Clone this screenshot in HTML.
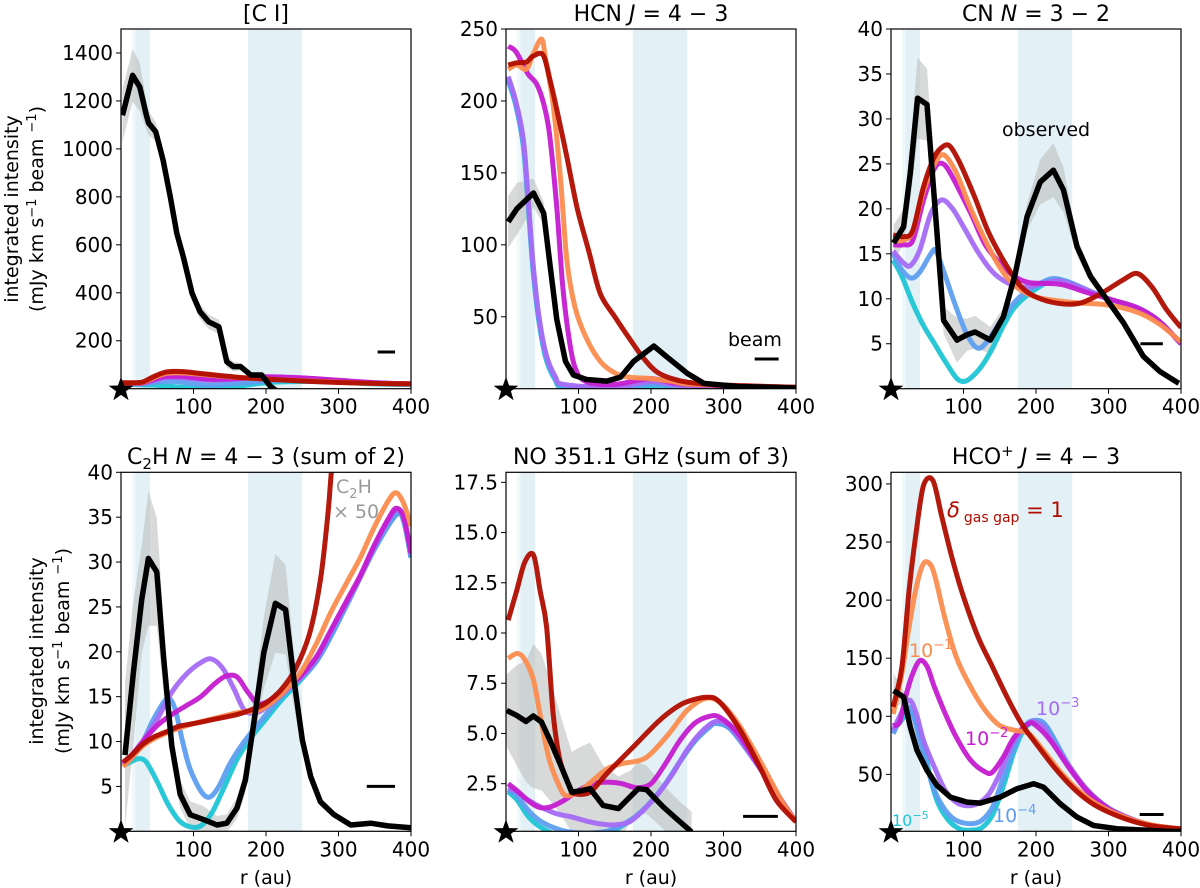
<!DOCTYPE html>
<html><head><meta charset="utf-8"><style>
html,body{margin:0;padding:0;background:#fff;}
svg{display:block;font-family:"DejaVu Sans","Liberation Sans",sans-serif;}
</style></head><body>
<svg id="fig" width="1200" height="888" viewBox="0 0 1200 888" xmlns="http://www.w3.org/2000/svg"></svg>
<script>
// ---------- DATA ----------
const xTicks = [100,200,300,400];
const bands = [[20,40],[175,250]];
// Panel 1 [C I]
const p1_yticks = [200,400,600,800,1000,1200,1400];
const p1_obs_r = [2,16,26,35,38,48,58,68,77,86,98,109,121,135,146,155,165,179,194,206,215];
const p1_obs_v = [1140,1307,1258,1140,1108,1071,953,800,648,550,398,321,279,258,112,92,92,57,57,10,-10];
const p1_obs_e = [110,110,100,60,50,40,40,35,35,35,30,30,30,30,25,20,15,12,10,5,5];
const p1_r = [0,20,30,45,60,75,90,120,160,200,250,300,350,400];
const p1_red = [25,25,28,50,68,72,70,60,48,40,32,26,22,20];
const p1_orange = [24,24,26,45,62,66,65,57,47,40,33,27,22,20];
const p1_magenta = [22,22,24,38,50,52,50,40,42,50,45,35,25,20];
const p1_violet = [22,22,23,34,45,47,44,36,40,48,44,34,25,20];
const p1_blue = [20,20,20,26,30,30,25,15,22,32,35,30,22,18];
const p1_cyan = [18,18,16,15,12,8,5,3,10,25,30,28,20,17];
// Panel 2 HCN
const p2_yticks = [50,100,150,200,250];
const p2_obs_r = [3,15,38,52,61,70,82,93,111,139,158,176,204,222,250,273,320,400];
const p2_obs_v = [116,125,136,122,85,48,19,9.5,6.4,5.3,8,19,29.6,22,10.6,3.7,1.5,0.5];
const p2_obs_e = [18,18,10,8,5,3,2,2,1,1,1,2,2,2,1,1,0.5,0.5];
const p2_red_r = [3,15,28,37,51,61,70,84,98,115,130,150,170,190,210,240,280,330,400];
const p2_red = [225,226.5,227,231,232,214,194,161,126,94,66,50,35,21,11,5.5,3,2,1];
const p2_orange_r = [3,15,28,37,49,55,65,75,84,95,110,130,150,170,200,230,260,400];
const p2_orange = [222,225,222,232,243,228,198,147,89,57,36,19,11,8,7,5,3,1];
const p2_magenta_r = [3,14,30,42,52,60,70,78,86,95,110,150,200,250,400];
const p2_magenta = [238,234,219,212,198,177,126,73,38,15,5,3,7,3,1];
const p2_low_r = [3,14,24,30,37,45,55,68,80,150,200,250,400];
const p2_violet = [217,199,173,136,89,52,24.5,8.3,3,1,5,2,0.5];
const p2_blue = [215,197,170,133,86,50,23,7,2,0.5,3,1.5,0.5];
const p2_cyan = [214,196,168,131,84,48,21,6,1,0,1.5,1,0.3];
// Panel 3 CN
const p3_yticks = [5,10,15,20,25,30,35,40];
const p3_obs_r = [3.6,17.4,26.6,36.7,49.6,63.4,72.6,91,104.8,116,137,155,171.5,187.6,206,224,238,256.6,275,298,321,348,371,397];
const p3_obs_v = [16.2,18,24,32.3,31.6,17.3,7.6,5.4,6,6.3,5.4,8,12.8,19.1,23,24.3,22.1,15.8,12.5,9.9,7.3,3.6,1.9,0.6];
const p3_obs_e = [2,2,3,4.5,4,2,1.5,2.5,1.8,1.8,1.5,1,1.2,1.5,2.5,3,2.5,1,0.7,0.5,0.5,0.4,0.3,0.3];
const p3_red_r = [3,17,30,45,60,73,82,95,115,135,160,180,200,230,260,290,320,340,360,380,400];
const p3_red = [17.1,16.9,17.6,22.5,25.8,27,26.9,25.1,21.4,17.3,13.6,11.3,10.2,9.5,9.5,10.6,12.1,12.8,11.3,8.8,6.8];
const p3_orange_r = [3,17,30,45,60,73,90,110,130,150,170,200,250,300,340,370,400];
const p3_orange = [16.5,16.5,17.5,22,25,26,24,20,16.5,13.5,11.5,10.2,9.6,9.3,8.5,7.2,5.2];
const p3_magenta_r = [3,17,30,45,60,72,85,110,130,150,170,190,220,240,270,300,340,370,400];
const p3_magenta = [16,16,16.5,21,24.5,25,23.5,19.5,16,14,12.5,11.8,11.7,11.5,10.7,10,9,7.5,5];
const p3_violet_r = [3,17,27,40,55,70,85,100,120,140,160,180,200,230,260,300,340,370,400];
const p3_violet = [15.3,14,13.7,15.5,19.5,21,20,18,15.2,13,11.8,11.3,11.5,12,11.3,10,9,7.5,5];
const p3_blue_r = [3,15,28,40,55,62,75,90,105,120,135,155,175,195,220,240,270,300,340,370,400];
const p3_blue = [15,13.2,12.3,13,15,15.3,12.5,9,6,4.5,5.5,8,10,11.2,12.2,12,11,10,9,7.5,5];
const p3_cyan_r = [3,15,30,45,60,75,90,100,110,125,140,155,170,190,220,240,270,300,340,370,400];
const p3_cyan = [14.3,12.5,9.5,7,5,3,1.2,0.8,1.2,2.5,4.5,7,9,10.5,12,12,11,10,9,7.5,5];
// Panel 4 C2H
const p4_yticks = [5,10,15,20,25,30,35,40];
const p4_obs_r = [5.5,17,28.6,37.8,49.4,58.6,70,81.7,95.5,114,132.5,146,160,171.6,183,197,213,227,238.5,250,261.6,275,294,317,344.6,368,400];
const p4_obs_v = [8.5,17.6,25.8,30.4,28.9,19.5,9.5,4.1,1.85,1.3,0.7,0.9,2.6,5.7,12,19.9,25.4,24.7,16.9,10.2,6.1,3.3,1.85,0.7,0.9,0.6,0.4];
const p4_obs_e = [8,8,6,7.5,6,4,2,1.5,1.5,1.5,1,1,1.2,1.5,2,4,5.5,5,3,1.5,0.7,0.5,0.4,0.3,0.3,0.3,0.3];
const p4_red_r = [3,15,30,45,60,80,100,130,160,185,200,220,240,260,275,285,290,300];
const p4_red = [7.7,8.5,9.7,10.5,11,11.7,12,12.5,13,13.7,14.3,15.7,18,22,28,35,40,50];
const p4_orange_r = [3,15,30,50,80,100,130,160,190,210,230,250,270,290,310,330,350,370,380,390,400];
const p4_orange = [7.2,8.2,9.5,10.5,11.5,12,12.6,13.2,13.5,14.5,16,18,21,24.5,27.5,30.5,34,37,37.7,36.5,34];
const p4_magenta_r = [3,15,30,50,70,90,110,130,145,160,175,190,210,230,250,270,290,310,330,350,370,380,390,400];
const p4_magenta = [7.5,8.5,10,11.8,13,14,15,16.5,17.3,17.2,15.5,14.2,14.8,16,17.5,19.5,22.5,25.5,28.5,32,35,36,35,31];
const p4_violet_r = [3,15,30,50,70,90,110,125,140,155,170,185,200,230,250,270,290,310,330,350,370,380,390,400];
const p4_violet = [7.5,8.5,10,12.5,15.5,17.5,18.8,19.2,18.2,16,13.5,13.2,13.8,15.8,17.3,19.3,22.3,25.3,28.3,31.8,34.8,35.8,34.8,30.8];
const p4_blue_r = [3,15,30,45,60,67,75,85,95,110,122,135,150,170,190,210,230,270,310,350,380,390,400];
const p4_blue = [7.5,8.3,10,12.5,14.5,14.8,13.5,10,7,4.5,3.8,5,7.5,10,12,14,15.8,19,25,31.5,35.3,34.5,30.5];
const p4_cyan_r = [3,15,25,35,50,65,80,95,110,125,140,160,180,200,220,270,310,350,380,390,400];
const p4_cyan = [7.3,7.8,8.1,7.7,5.5,3,1.2,0.5,0.6,2,4.5,8,10.5,12.5,14.5,19,25,31.5,35.3,34.5,30.5];
// Panel 5 NO
const p5_yticks = [2.5,5.0,7.5,10.0,12.5,15.0,17.5];
const p5_obs_r = [1,14.7,27.6,37.7,49,60.7,74.5,90.6,104,116,134,155,171,182.5,194,217,238,256];
const p5_obs_v = [6.15,5.9,5.6,5.87,5.57,4.66,3.5,2.08,2.15,2.25,1.42,1.26,1.84,2.25,2.2,1.34,0.67,0.1];
const p5_obs_e = [1.8,2.5,3,3.6,3.4,3,2.5,2,2.2,2.3,2,1.6,1.3,1.3,1.2,1.1,1,1];
const p5_red_r = [3,15,26,38,47,56,65,74.5,88,95,116,139,175.6,212,244.6,277,295,323,350,373,400];
const p5_red = [10.64,12.14,13.54,13.88,12.1,10.3,6,3.66,2.33,2,2.08,3,4.33,5.66,6.5,6.8,6.55,5.16,3.33,1.67,0.6];
const p5_orange_r = [3,15,25,38,50,60,72,82,100,120,140,160,185,200,225,250,275,295,320,350,380,400];
const p5_orange = [8.73,8.98,8.73,7.65,5.32,3.66,2.5,1.92,2.08,2.67,3.25,3.5,3.66,4,5,6.16,6.74,6.55,5.5,3.66,1.67,0.6];
const p5_magenta_r = [3,15,30,45,60,80,100,120,140,160,180,200,220,240,260,280,295,320,350,380,400];
const p5_magenta = [2.5,2.16,1.67,1.33,1.33,1.67,2.16,2.5,2.58,2.5,2.3,2.5,3.5,4.66,5.5,5.85,5.8,5,3.33,1.67,0.6];
const p5_violet_r = [3,15,30,50,70,90,110,130,150,170,190,210,230,250,270,290,310,340,370,400];
const p5_violet = [2.3,2.1,1.7,1.3,1.0,0.85,0.65,0.5,0.45,0.6,1.2,2,3,4.2,5.1,5.6,5.3,3.8,2.2,0.6];
const p5_blue_r = [3,15,30,45,60,80,100,120,140,160,180,200,220,240,260,280,290,310,340,370,400];
const p5_blue = [2.2,1.9,1.2,0.7,0.4,0.15,0.05,0.05,0.15,0.45,0.9,1.6,2.5,3.6,4.6,5.3,5.5,5.2,3.8,2.2,0.6];
const p5_cyan = [2.1,1.7,0.9,0.4,0.1,-0.2,-0.3,-0.2,0,0.4,0.9,1.6,2.5,3.6,4.6,5.3,5.5,5.2,3.8,2.2,0.6];
// Panel 6 HCO+
const p6_yticks = [50,100,150,200,250,300];
const p6_obs_r = [3.6,17.4,26.6,35.8,49.6,63.4,81.8,104.8,123,150.8,173.8,196.7,210.5,233.5,256.6,279.4,311.7,380,400];
const p6_obs_v = [122,116.6,90.8,70.7,53.4,40.5,30.4,26.1,25.3,30.4,37.7,42,39,24.7,13.2,6,3.2,1,0.8];
const p6_obs_e = [15,5,3,2,1,1,1,1,1,1,1,1,1,1,1,1,0.5,0.5,0.5];
const p6_red_r = [3,15,25,35,45,58,70,85,100,120,140,160,180,200,225,250,275,300,330,360,400];
const p6_red = [108,142.5,208.6,260,299,302.8,271.8,234.5,202.8,168.4,142.5,116.6,93.7,76.5,56.3,39,26,17.5,10.3,5.7,3];
const p6_orange_r = [3,15,25,35,45,55,62,75,90,110,130,150,170,190,210,240,270,300,330,360,400];
const p6_orange = [102,136.8,177,211.5,231.6,230,217,182.8,151,125,105,92,88,85,70.7,47.7,30.4,19,11.5,6.5,3];
const p6_magenta_r = [3,12,20,30,40,50,60,75,90,110,130,140,155,170,190,200,220,245,270,300,330,360,400];
const p6_magenta = [92,95,116.6,136.8,148,142.5,125,102,82,62,52,52,65,82,93.7,92,79,56.3,36,20.4,11.5,6,3];
const p6_violet_r = [3,12,25,35,45,60,75,90,105,120,135,150,165,180,195,210,220,245,270,300,330,360,400];
const p6_violet = [88,100,114,102,79,56,36,26,23,25,33,50.6,73.5,88,95.5,91,81,58,37,21,12,6,3];
const p6_blue_r = [3,12,22,30,40,50,60,75,90,110,125,140,155,170,185,200,215,245,270,300,330,360,400];
const p6_blue = [85,97,108,102,79,56,36,19,10.3,7.5,10.3,21.8,47.7,73.5,92,96.5,91,58,37,21,12,6,3];
const p6_cyan_r = [3,15,25,35,45,55,65,80,95,110,125,140,155,170,185,200,215,245,270,300,330,360,400];
const p6_cyan = [88,97,104,95,75,45,25,10,3,2,4,15,40,70,90,95,90,58,37,21,12,6,3];
// Beam bars [r0, r1, value]
const beams = [[354,378,153],[343,376,20.6],[344,375,5],[339,378,5],[327,375,0.87],[343,376,15.5]];

// ---------- COLORS ----------
const COL = {red:'#b00d00',orange:'#fb8c4e',magenta:'#c41ccf',violet:'#a56cf4',blue:'#5e9ef0',cyan:'#1fc5d5'};

const NS='http://www.w3.org/2000/svg';
const svg=document.getElementById('fig');
function mk(tag,attrs,parent){const e=document.createElementNS(NS,tag);for(const k in attrs)e.setAttribute(k,attrs[k]);(parent||svg).appendChild(e);return e;}

const panels=[
 {id:'ci',L:121,T:29,H:359.7,ymin:0,ymax:1500,yt:p1_yticks,obs:[p1_obs_r,p1_obs_v,p1_obs_e],
  models:[['cyan',p1_r,p1_cyan],['blue',p1_r,p1_blue],['violet',p1_r,p1_violet],['magenta',p1_r,p1_magenta],['orange',p1_r,p1_orange],['red',p1_r,p1_red]]},
 {id:'hcn',L:506,T:29,H:359.7,ymin:0,ymax:250,yt:p2_yticks,obs:[p2_obs_r,p2_obs_v,p2_obs_e],
  models:[['cyan',p2_low_r,p2_cyan],['blue',p2_low_r,p2_blue],['violet',p2_low_r,p2_violet],['magenta',p2_magenta_r,p2_magenta],['orange',p2_orange_r,p2_orange],['red',p2_red_r,p2_red]]},
 {id:'cn',L:891,T:29,H:359.7,ymin:0,ymax:40,yt:p3_yticks,obs:[p3_obs_r,p3_obs_v,p3_obs_e],
  models:[['cyan',p3_cyan_r,p3_cyan],['blue',p3_blue_r,p3_blue],['violet',p3_violet_r,p3_violet],['magenta',p3_magenta_r,p3_magenta],['orange',p3_orange_r,p3_orange],['red',p3_red_r,p3_red]]},
 {id:'c2h',L:121,T:472.3,H:359,ymin:0,ymax:40,yt:p4_yticks,obs:[p4_obs_r,p4_obs_v,p4_obs_e],
  models:[['cyan',p4_cyan_r,p4_cyan],['blue',p4_blue_r,p4_blue],['violet',p4_violet_r,p4_violet],['magenta',p4_magenta_r,p4_magenta],['orange',p4_orange_r,p4_orange],['red',p4_red_r,p4_red]]},
 {id:'no',L:506,T:472.3,H:359,ymin:0.13,ymax:18,yt:p5_yticks,dec:1,obs:[p5_obs_r,p5_obs_v,p5_obs_e],
  models:[['cyan',p5_blue_r,p5_cyan],['blue',p5_blue_r,p5_blue],['violet',p5_violet_r,p5_violet],['magenta',p5_magenta_r,p5_magenta],['orange',p5_orange_r,p5_orange],['red',p5_red_r,p5_red]]},
 {id:'hco',L:891,T:472.3,H:359,ymin:1,ymax:310,yt:p6_yticks,obs:[p6_obs_r,p6_obs_v,p6_obs_e],
  models:[['cyan',p6_cyan_r,p6_cyan],['blue',p6_blue_r,p6_blue],['violet',p6_violet_r,p6_violet],['magenta',p6_magenta_r,p6_magenta],['orange',p6_orange_r,p6_orange],['red',p6_red_r,p6_red]]}
];
const W=290;

function smooth(pts){
  let d='M'+pts[0][0].toFixed(1)+','+pts[0][1].toFixed(1);
  for(let i=0;i<pts.length-1;i++){
    const p0=pts[Math.max(0,i-1)],p1=pts[i],p2=pts[i+1],p3=pts[Math.min(pts.length-1,i+2)];
    const t=0.16;
    const c1=[p1[0]+(p2[0]-p0[0])*t,p1[1]+(p2[1]-p0[1])*t];
    const c2=[p2[0]-(p3[0]-p1[0])*t,p2[1]-(p3[1]-p1[1])*t];
    d+=' C'+c1[0].toFixed(1)+','+c1[1].toFixed(1)+' '+c2[0].toFixed(1)+','+c2[1].toFixed(1)+' '+p2[0].toFixed(1)+','+p2[1].toFixed(1);
  }
  return d;
}

panels.forEach((p,pi)=>{
  const B=p.T+p.H;
  const xs=r=>p.L+r/400*W;
  const ys=v=>B-(v-p.ymin)/(p.ymax-p.ymin)*p.H;
  const g=mk('g',{});
  
  
  const cp=mk('clipPath',{id:'clip'+pi},g);
  mk('rect',{x:p.L,y:p.T,width:W,height:p.H},cp);
  const cg=mk('g',{'clip-path':'url(#clip'+pi+')'},g);
  bands.forEach((b,bi)=>{
    const rc=mk('rect',{x:xs(b[0]),y:p.T,width:xs(b[1])-xs(b[0]),height:p.H,fill:'#e3f1f7'},cg);
    
    
  });
  const rc0=mk('rect',{x:xs(15),y:p.T,width:xs(20)-xs(15),height:p.H,fill:'#f1f8fb'},cg);
  
  
  const [or,ov,oe]=p.obs;
  let up=or.map((r,i)=>xs(r).toFixed(1)+','+ys(ov[i]+oe[i]).toFixed(1));
  let dn=or.map((r,i)=>xs(r).toFixed(1)+','+ys(ov[i]-oe[i]).toFixed(1)).reverse();
  const eb=mk('polygon',{points:up.concat(dn).join(' '),fill:'#b8baba',opacity:0.55},cg);
  
  
  p.models.forEach(m=>{
    const pts=m[1].map((r,i)=>[xs(r),ys(m[2][i])]);
    const pa=mk('path',{d:smooth(pts),fill:'none',stroke:COL[m[0]],'stroke-width':5,'stroke-linejoin':'round',opacity:0.95},cg);
    
    
  });
  const ol=mk('polyline',{points:or.map((r,i)=>xs(r).toFixed(1)+','+ys(ov[i]).toFixed(1)).join(' '),fill:'none',stroke:'#000','stroke-width':5.5,'stroke-linejoin':'round'},cg);
  
  
  const bm=beams[pi];
  const bl=mk('line',{x1:xs(bm[0]),x2:xs(bm[1]),y1:ys(bm[2]),y2:ys(bm[2]),stroke:'#000','stroke-width':3},g);
  
  
  const fr=mk('rect',{x:p.L,y:p.T,width:W,height:p.H,fill:'none',stroke:'#000','stroke-width':1.2},g);
  
  
  p.yt.forEach(v=>{
    const y=ys(v);
    const tl=mk('line',{x1:p.L-5,x2:p.L,y1:y,y2:y,stroke:'#000','stroke-width':1},g);
    
    
    const tx=mk('text',{x:p.L-8,y:y+7,'text-anchor':'end','font-size':20},g);
    tx.textContent=p.dec?v.toFixed(1):String(v);
    
    
  });
  xTicks.forEach(v=>{
    const x=xs(v);
    const tl=mk('line',{x1:x,x2:x,y1:B,y2:B+5,stroke:'#000','stroke-width':1},g);
    
    
    const tx=mk('text',{x:x,y:B+25,'text-anchor':'middle','font-size':20},g);
    tx.textContent=String(v);
    
    
  });
  const R=13,r2=5.2;let sp=[];
  for(let k=0;k<10;k++){const a=-Math.PI/2+k*Math.PI/5;const rr=k%2?r2:R;sp.push((p.L+rr*Math.cos(a)).toFixed(1)+','+(B+1+rr*Math.sin(a)).toFixed(1));}
  const st=mk('polygon',{points:sp.join(' '),fill:'#000'},g);
  
  
});
</script>
<script>
const T=(html)=>{const g=document.createElementNS('http://www.w3.org/2000/svg','g');g.innerHTML=html;document.getElementById('fig').appendChild(g);};
T(`
<text x="266" y="21" text-anchor="middle" font-size="22">[C I]</text>
<text x="651" y="21" text-anchor="middle" font-size="22">HCN <tspan font-style="italic">J</tspan> = 4 − 3</text>
<text x="1036" y="21" text-anchor="middle" font-size="22">CN <tspan font-style="italic">N</tspan> = 3 − 2</text>
<text x="266" y="464" text-anchor="middle" font-size="22">C<tspan font-size="15" dy="5">2</tspan><tspan dy="-5">H </tspan><tspan font-style="italic">N</tspan> = 4 − 3 (sum of 2)</text>
<text x="651" y="464" text-anchor="middle" font-size="22">NO 351.1 GHz (sum of 3)</text>
<text x="1036" y="464" text-anchor="middle" font-size="22">HCO<tspan font-size="15" dy="-8">+</tspan><tspan dy="8"> </tspan><tspan font-style="italic">J</tspan> = 4 − 3</text>
<g font-size="19" text-anchor="middle">
 <text transform="translate(18,209) rotate(-90)">integrated intensity</text>
 <text transform="translate(43,209) rotate(-90)">(mJy km s<tspan font-size="13" dy="-7">−1</tspan><tspan dy="7"> beam </tspan><tspan font-size="13" dy="-7">−1</tspan><tspan dy="7">)</tspan></text>
</g>
<g font-size="19" text-anchor="middle">
 <text transform="translate(43,651) rotate(-90)">integrated intensity</text>
 <text transform="translate(69,651) rotate(-90)">(mJy km s<tspan font-size="13" dy="-7">−1</tspan><tspan dy="7"> beam </tspan><tspan font-size="13" dy="-7">−1</tspan><tspan dy="7">)</tspan></text>
</g>
<text x="266" y="884" text-anchor="middle" font-size="19">r (au)</text>
<text x="651" y="884" text-anchor="middle" font-size="19">r (au)</text>
<text x="1036" y="884" text-anchor="middle" font-size="19">r (au)</text>
<text x="728" y="346" font-size="19">beam</text>
<text x="1002" y="136" font-size="19">observed</text>
<text x="336" y="493" font-size="19" fill="#999">C<tspan font-size="13" dy="5">2</tspan><tspan dy="-5">H</tspan></text>
<text x="333" y="518" font-size="19" fill="#999">× 50</text>
<text x="947" y="517" font-size="21" fill="#b00d00"><tspan font-style="italic">δ</tspan><tspan font-size="14" dx="4" dy="5">gas gap</tspan><tspan dy="-5"> = 1</tspan></text>
<text x="909" y="657" font-size="19" fill="#fb8c4e">10<tspan font-size="13" dy="-8">−1</tspan></text>
<text x="965" y="745" font-size="19" fill="#c41ccf">10<tspan font-size="13" dy="-8">−2</tspan></text>
<text x="1036" y="715" font-size="19" fill="#a56cf4">10<tspan font-size="13" dy="-8">−3</tspan></text>
<text x="993" y="822" font-size="19" fill="#5e9ef0">10<tspan font-size="13" dy="-8">−4</tspan></text>
<text x="892" y="826" font-size="16" fill="#1fc5d5">10<tspan font-size="11" dy="-7">−5</tspan></text>
`);
</script>
</body></html>
